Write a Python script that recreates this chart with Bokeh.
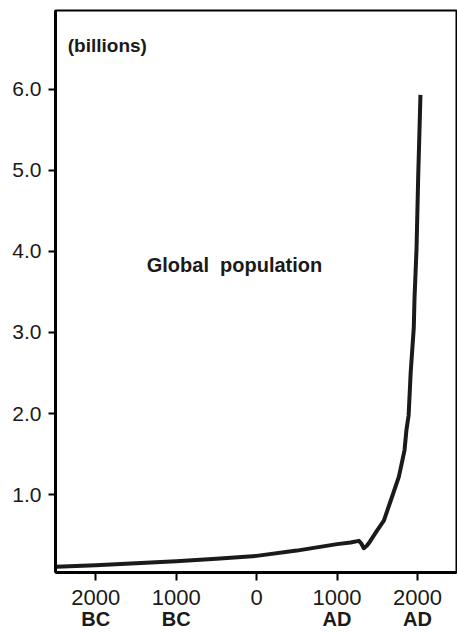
from bokeh.plotting import figure
from bokeh.models import LinearAxis, FixedTicker, Range1d, Label, ColumnDataSource
from bokeh.embed import file_html
from bokeh.resources import INLINE

# Data (year; negative = BC), population in billions
years = [-2490, -2000, -1500, -1000, -500, 0, 500, 1000, 1168, 1271, 1300, 1333,
         1370, 1408, 1499, 1582, 1686, 1768, 1801, 1839, 1863, 1890, 1915, 1954,
         1963, 1988, 2008, 2037]
population = [0.11, 0.13, 0.155, 0.18, 0.21, 0.245, 0.31, 0.39, 0.41, 0.43, 0.40, 0.34,
              0.37, 0.42, 0.56, 0.68, 0.98, 1.22, 1.37, 1.55, 1.80, 1.98, 2.50, 3.06,
              3.42, 4.03, 4.89, 5.93]

x_ticks = [-2000, -1000, 0, 1000, 2000]
x_tick_labels = ["2000", "1000", "0", "1000", "2000"]
era_ticks = [-2000, -1000, 1000, 2000]
era_labels = ["BC", "BC", "AD", "AD"]
y_ticks = [1, 2, 3, 4, 5, 6]
y_tick_labels = ["1.0", "2.0", "3.0", "4.0", "5.0", "6.0"]

FONT = "Liberation Sans"

p = figure(width=457, height=632,
           x_range=Range1d(-2500, 2485), y_range=Range1d(0.04, 6.97),
           output_backend="svg", toolbar_location=None,
           min_border_left=55, min_border_top=10, min_border_right=1,
           min_border_bottom=54)

p.xgrid.visible = False
p.ygrid.visible = False
p.outline_line_color = "black"
p.outline_line_width = 2
p.outline_line_alpha = 1
p.background_fill_color = "white"
p.border_fill_color = "white"

src = ColumnDataSource(dict(x=years, y=population))
p.line("x", "y", source=src, line_color="#1a1a1a", line_width=4,
       line_join="round", line_cap="butt")

# x axis with numbers
xa = p.xaxis[0]
xa.ticker = FixedTicker(ticks=x_ticks, minor_ticks=[])
xa.major_label_overrides = {t: l for t, l in zip(x_ticks, x_tick_labels)}
xa.axis_line_width = 3
xa.axis_line_color = "black"
xa.major_tick_line_width = 2
xa.major_tick_line_color = "black"
xa.major_tick_out = 8
xa.major_tick_in = 0
xa.minor_tick_line_color = None
xa.major_label_text_font = FONT
xa.major_label_text_font_size = "22px"
xa.major_label_text_line_height = 0.8
xa.major_label_text_color = "#1a1a1a"
xa.major_label_standoff = 9

# era axis (BC / AD)
ea = LinearAxis(ticker=FixedTicker(ticks=era_ticks, minor_ticks=[]),
                major_label_overrides={t: l for t, l in zip(era_ticks, era_labels)})
ea.axis_line_color = None
ea.major_tick_line_color = None
ea.minor_tick_line_color = None
ea.major_tick_out = 0
ea.major_tick_in = 0
ea.major_label_standoff = 0
ea.major_label_text_font = FONT
ea.major_label_text_font_style = "bold"
ea.major_label_text_font_size = "20px"
ea.major_label_text_line_height = 0.8
ea.major_label_text_color = "#1a1a1a"
p.add_layout(ea, "below")

# y axis
ya = p.yaxis[0]
ya.ticker = FixedTicker(ticks=y_ticks, minor_ticks=[])
ya.major_label_overrides = {t: l for t, l in zip(y_ticks, y_tick_labels)}
ya.axis_line_width = 3
ya.axis_line_color = "black"
ya.major_tick_line_width = 2
ya.major_tick_line_color = "black"
ya.major_tick_out = 7
ya.major_tick_in = 0
ya.minor_tick_line_color = None
ya.major_label_text_font = FONT
ya.major_label_text_font_size = "21px"
ya.major_label_text_color = "#1a1a1a"
ya.major_label_standoff = 7

p.add_layout(Label(x=-2348, y=6.54, text="(billions)", text_font=FONT,
                   text_font_style="bold", text_font_size="19px",
                   text_color="#1a1a1a", text_baseline="alphabetic"))
p.add_layout(Label(x=-1366, y=3.83, text="Global\u00a0 population", text_font=FONT,
                   text_font_style="bold", text_font_size="20px",
                   text_color="#1a1a1a", text_baseline="alphabetic"))

open("out.html", "w").write(file_html(p, INLINE))
